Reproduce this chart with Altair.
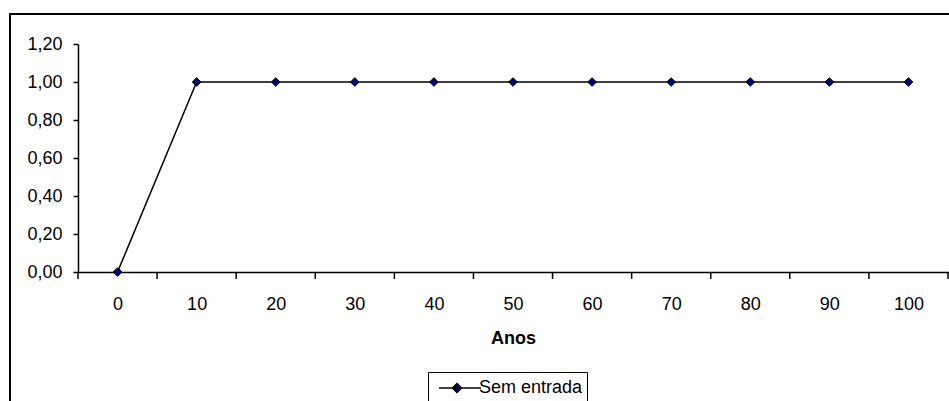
import altair as alt
import pandas as pd

anos = [0, 10, 20, 30, 40, 50, 60, 70, 80, 90, 100]
sem_entrada = [0.0, 1.0, 1.0, 1.0, 1.0, 1.0, 1.0, 1.0, 1.0, 1.0, 1.0]
serie = "Sem entrada"
y_ticks = [0.0, 0.2, 0.4, 0.6, 0.8, 1.0, 1.2]
x_tick_bounds = [-5, 5, 15, 25, 35, 45, 55, 65, 75, 85, 95, 105]

df = pd.DataFrame({"Anos": anos, "valor": sem_entrada, "serie": [serie] * len(anos)})
df_ticks = pd.DataFrame({"b": x_tick_bounds})

W, H = 870, 228
FONT = "Liberation Sans"

x_scale = alt.Scale(domain=[-5, 105], nice=False, zero=False)
y_scale = alt.Scale(domain=[0, 1.2], nice=False)

x_axis = alt.Axis(values=anos, ticks=False, grid=False, domainColor="black",
                  domainWidth=1.5, labelFontSize=18, labelFont=FONT, labelColor="black",
                  labelPadding=23, labelOverlap=False, title="Anos", titleFont=FONT,
                  titleFontSize=18, titleFontWeight="bold", titleColor="black",
                  titlePadding=16)
y_axis = alt.Axis(values=y_ticks, grid=False, domainColor="black", domainWidth=1.5,
                  tickColor="black", tickWidth=1.5, tickSize=5, labelFontSize=18,
                  labelFont=FONT, labelColor="black", labelPadding=11, labelOverlap=False,
                  title=None,
                  labelExpr="replace(format(datum.value, '.2f'), '.', ',')")

frame = alt.Chart(df).mark_rect(fill=None, stroke="black", strokeWidth=2).encode(
    x=alt.value(-68), x2=alt.value(W + 30), y=alt.value(-30), y2=alt.value(H + 200)
)

line = alt.Chart(df).mark_line(color="black", strokeWidth=1.5).encode(
    x=alt.X("Anos:Q", scale=x_scale, axis=x_axis),
    y=alt.Y("valor:Q", scale=y_scale, axis=y_axis),
)

points = alt.Chart(df).mark_point(shape="diamond", filled=True, size=75, stroke="black",
                                  strokeWidth=1, opacity=1).encode(
    x=alt.X("Anos:Q", scale=x_scale, axis=x_axis),
    y=alt.Y("valor:Q", scale=y_scale, axis=y_axis),
    fill=alt.Fill("serie:N", scale=alt.Scale(range=["#000080"]),
                  legend=alt.Legend(title=None, orient="none", legendX=350, legendY=328,
                                    padding=4, strokeColor="black", fillColor="white",
                                    symbolType="M-1.64,0H2.18M0,-0.41L0.41,0L0,0.41L-0.41,0Z",
                                    symbolSize=484, symbolOffset=13,
                                    symbolStrokeColor="black", symbolStrokeWidth=1.5,
                                    labelFont=FONT, labelFontSize=18, labelColor="black",
                                    labelOffset=10)),
)

ticks = alt.Chart(df_ticks).mark_rule(color="black", strokeWidth=1.5).encode(
    x=alt.X("b:Q", scale=x_scale, axis=x_axis), y=alt.value(H), y2=alt.value(H + 7)
)

chart = alt.layer(frame, line, ticks, points).properties(
    width=W, height=H,
    padding={"left": 78, "top": 44, "right": 1, "bottom": 129},
    autosize=alt.AutoSizeParams(type="none"),
    background="white",
).configure_view(stroke=None).configure_axis(labelOverlap=False)

chart.save("out.html", embed_options={"renderer": "svg", "actions": False})
